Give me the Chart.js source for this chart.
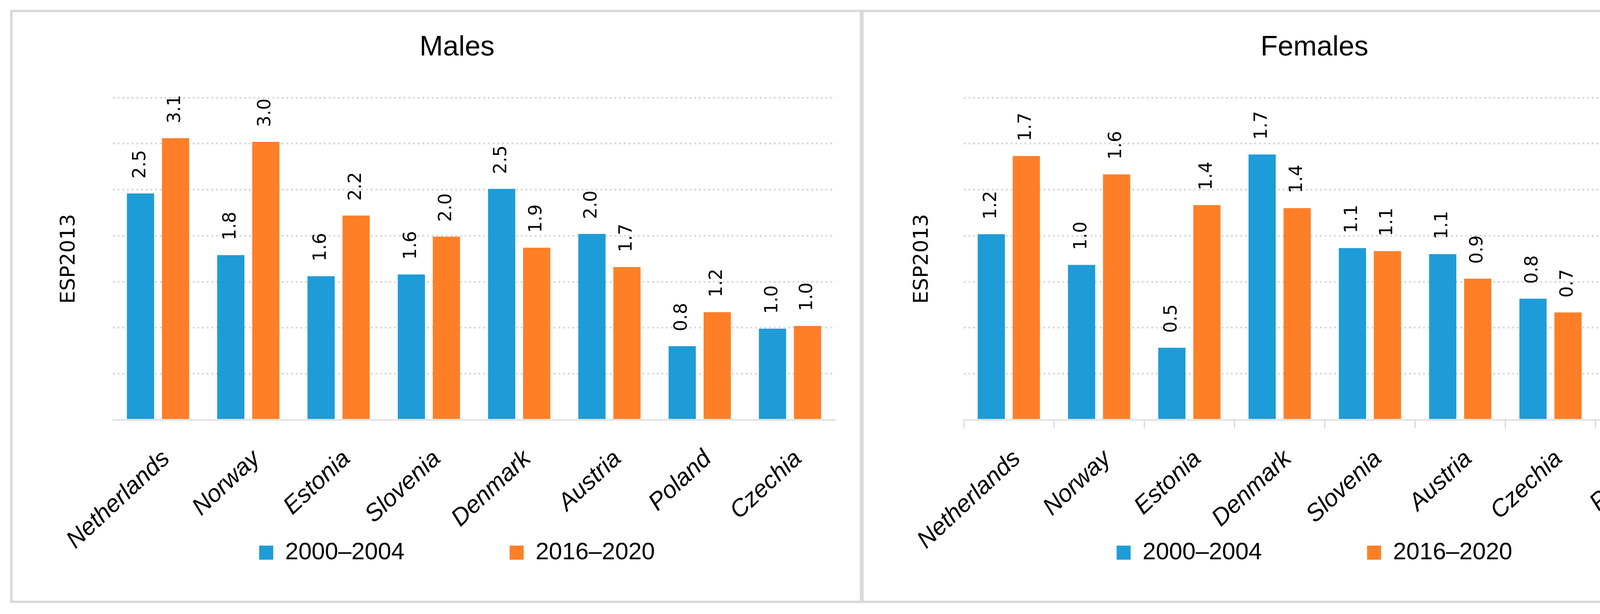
<!DOCTYPE html>
<html>
<head>
<meta charset="utf-8">
<script src="https://cdn.jsdelivr.net/npm/chart.js@4.4.1/dist/chart.umd.min.js"></script>
<style>
html,body{margin:0;padding:0;background:#fff;overflow:hidden;width:4416px;height:1571px;}
.panel{position:absolute;box-sizing:border-box;border:6px solid #d9d9d9;background:#fff;}
canvas{position:absolute;}
</style>
</head>
<body>
<div class="panel" style="left:26px;top:25px;width:2181px;height:1518px;"></div>
<div class="panel" style="left:2205px;top:25px;width:2183px;height:1518px;"></div>
<canvas id="males" width="2048" height="1506" style="left:146px;top:31px;width:2048px;height:1506px;"></canvas>
<canvas id="females" width="2070" height="1506" style="left:2330px;top:31px;width:2070px;height:1506px;"></canvas>
<script>
// ---- data ----
const maleCategories = ['Netherlands', 'Norway', 'Estonia', 'Slovenia', 'Denmark', 'Austria', 'Poland', 'Czechia'];
const male2000 = [2.46, 1.79, 1.56, 1.58, 2.51, 2.02, 0.80, 0.99];
const male2016 = [3.06, 3.02, 2.22, 1.99, 1.87, 1.66, 1.17, 1.02];

const femaleCategories = ['Netherlands', 'Norway', 'Estonia', 'Denmark', 'Slovenia', 'Austria', 'Czechia', 'Poland'];
const female2000 = [1.21, 1.01, 0.47, 1.73, 1.12, 1.08, 0.79, 0.36];
const female2016 = [1.72, 1.60, 1.40, 1.38, 1.10, 0.92, 0.70, 0.66];

const seriesLabels = ['2000–2004', '2016–2020'];
const panelTitles = ['Males', 'Females'];
const yAxisTitle = 'ESP2013';
const maleAxis = [0, 3.5, 0.5];     // min, max, step (tick labels hidden)
const femaleAxis = [0, 2.1, 0.3];

// ---- styles ----
const BLUE = '#1E9CD7';
const ORANGE = '#FE7F27';
const GRID = '#D9D9D9';
const SANS = '"Liberation Sans", Arial, sans-serif';
const DEJAVU = '"DejaVu Sans", Verdana, sans-serif';

const valueLabels = {
  id: 'valueLabels',
  afterDatasetsDraw(chart) {
    const ctx = chart.ctx;
    ctx.save();
    ctx.font = '46px ' + DEJAVU;
    ctx.fillStyle = '#000';
    ctx.textAlign = 'left';
    ctx.textBaseline = 'middle';
    chart.data.datasets.forEach((ds, i) => {
      const meta = chart.getDatasetMeta(i);
      meta.data.forEach((bar, j) => {
        ctx.save();
        ctx.translate(bar.x, bar.y - 38);
        ctx.rotate(-Math.PI / 2);
        ctx.fillText(ds.data[j].toFixed(1), 0, 0);
        ctx.restore();
      });
    });
    ctx.restore();
  }
};

function makeChart(id, cats, a, b, title, axis, o) {
  return new Chart(document.getElementById(id), {
    type: 'bar',
    data: {
      labels: cats,
      datasets: [
        { label: seriesLabels[0], data: a, backgroundColor: BLUE, categoryPercentage: 0.776, barPercentage: 0.777 },
        { label: seriesLabels[1], data: b, backgroundColor: ORANGE, categoryPercentage: 0.776, barPercentage: 0.777 }
      ]
    },
    options: {
      responsive: false,
      animation: false,
      devicePixelRatio: 1,
      layout: { padding: { left: 0, right: 0, top: 0, bottom: 82.5 } },
      plugins: {
        title: {
          display: true, text: title, color: '#000',
          font: { family: SANS, size: 72, weight: 'normal' },
          padding: { top: 47.8, bottom: 84.8 }
        },
        legend: {
          position: 'bottom',
          labels: {
            boxWidth: 36, boxHeight: 36, padding: 269.3, color: '#000',
            font: { family: SANS, size: 61 }
          }
        },
        tooltip: { enabled: false }
      },
      scales: {
        x: {
          grid: { display: o.ticks, drawOnChartArea: false, drawTicks: o.ticks, tickLength: 22, color: GRID, lineWidth: 3, offset: true },
          border: { display: true, color: GRID, width: 3 },
          ticks: {
            minRotation: 43, maxRotation: 43, autoSkip: false,
            mirror: true, padding: -118, labelOffset: 72, color: '#000',
            font: { family: SANS, size: 62, style: 'italic' }
          },
          afterFit(s) { s.height = 40; s.paddingLeft = 0; s.paddingRight = 0; }
        },
        y: {
          min: axis[0], max: axis[1],
          ticks: { display: false, stepSize: axis[2] },
          grid: {
            color: (c) => (c.tick && c.tick.value === 0) ? 'rgba(0,0,0,0)' : GRID,
            lineWidth: 4.5, drawTicks: false
          },
          border: { display: false, dash: [5, 7] },
          title: {
            display: true, text: yAxisTitle, color: '#000',
            font: { family: DEJAVU, size: 52 }, padding: { top: 0, bottom: 0 }
          },
          afterFit(s) { s.width = o.yWidth; }
        },
        y2: {
          position: 'right', display: true,
          grid: { display: false }, ticks: { display: false }, border: { display: false },
          afterFit(s) { s.width = o.rightWidth; }
        }
      }
    },
    plugins: [valueLabels]
  });
}

makeChart('males', maleCategories, male2000, male2016, panelTitles[0], maleAxis, { ticks: false, yWidth: 143, rightWidth: 56 });
makeChart('females', femaleCategories, female2000, female2016, panelTitles[1], femaleAxis, { ticks: true, yWidth: 137, rightWidth: 84 });
</script>
</body>
</html>
